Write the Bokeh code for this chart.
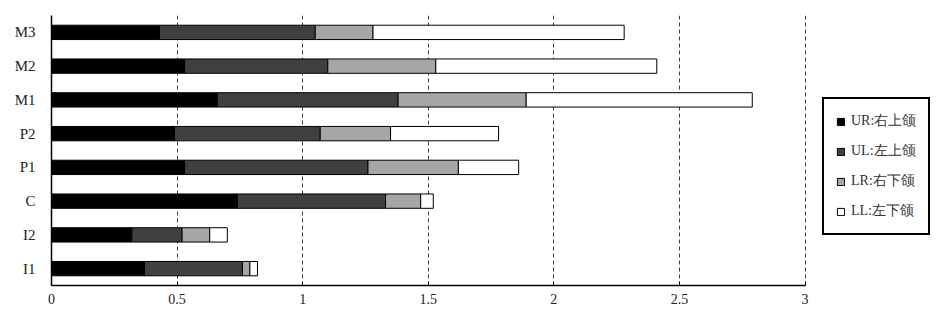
from bokeh.plotting import figure
from bokeh.models import ColumnDataSource, FactorRange, Range1d, Legend, LegendItem, FixedTicker
from bokeh.embed import file_html
from bokeh.resources import INLINE

categories = ["I1", "I2", "C", "P1", "P2", "M1", "M2", "M3"]
UR = [0.37, 0.32, 0.74, 0.53, 0.49, 0.66, 0.53, 0.43]
UL = [0.39, 0.20, 0.59, 0.73, 0.58, 0.72, 0.57, 0.62]
LR = [0.03, 0.11, 0.14, 0.36, 0.28, 0.51, 0.43, 0.23]
LL = [0.03, 0.07, 0.05, 0.24, 0.43, 0.90, 0.88, 1.00]
series = ["UR", "UL", "LR", "LL"]
labels = ["UR:右上颌", "UL:左上颌", "LR:右下颌", "LL:左下颌"]
colors = ["#000000", "#404040", "#a6a6a6", "#ffffff"]
x_ticks = [0, 0.5, 1, 1.5, 2, 2.5, 3]

source = ColumnDataSource(dict(cat=categories, UR=UR, UL=UL, LR=LR, LL=LL))

FONT = "Liberation Serif"
PX_PER_UNIT = 753.5 / 3.0
FRAME_W = 890

p = figure(frame_width=FRAME_W, frame_height=270, output_backend="svg", toolbar_location=None,
           y_range=FactorRange(*categories, range_padding=0),
           x_range=Range1d(0, FRAME_W / PX_PER_UNIT),
           min_border_left=51, min_border_right=0, min_border_top=15, min_border_bottom=33)
p.outline_line_color = None
p.background_fill_color = "white"

renderers = p.hbar_stack(series, y="cat", height=0.425, source=source,
                         fill_color=colors, line_color="black", line_width=1)

p.y_range.factor_padding = 0

# axes
p.xaxis.ticker = FixedTicker(ticks=x_ticks)
p.xaxis.bounds = (0, 3)
p.xaxis.major_tick_in = 4
p.xaxis.major_tick_out = 0
p.xaxis.minor_tick_line_color = None
p.xaxis.axis_line_color = "black"
p.xaxis.axis_line_width = 1.5
p.xaxis.major_label_text_font = FONT
p.xaxis.major_label_text_font_size = "14px"
p.xaxis.major_label_text_color = "#222222"
p.xaxis.major_label_standoff = 8

p.yaxis.major_tick_line_color = None
p.yaxis.minor_tick_line_color = None
p.yaxis.axis_line_color = "black"
p.yaxis.axis_line_width = 1.5
p.yaxis.major_label_text_font = FONT
p.yaxis.major_label_text_font_size = "15px"
p.yaxis.major_label_text_color = "#222222"
p.yaxis.major_label_standoff = 10

p.xgrid.ticker = FixedTicker(ticks=x_ticks[1:])
p.xgrid.grid_line_color = "#404040"
p.xgrid.grid_line_dash = "4 3"
p.xgrid.grid_line_width = 1
p.ygrid.grid_line_color = None

items = [LegendItem(label=lab, renderers=[r]) for lab, r in zip(labels, renderers)]
legend = Legend(items=items, location=(771, 50), orientation="vertical",
                border_line_color="black", border_line_width=2.5, border_line_alpha=1,
                background_fill_alpha=1, background_fill_color="white",
                glyph_width=9, glyph_height=9, label_standoff=6,
                label_text_font=FONT, label_text_font_size="14px",
                label_text_color="#333333", spacing=10, label_height=20,
                padding=12, margin=0)
p.add_layout(legend, "center")

open("out.html", "w").write(file_html(p, INLINE))
